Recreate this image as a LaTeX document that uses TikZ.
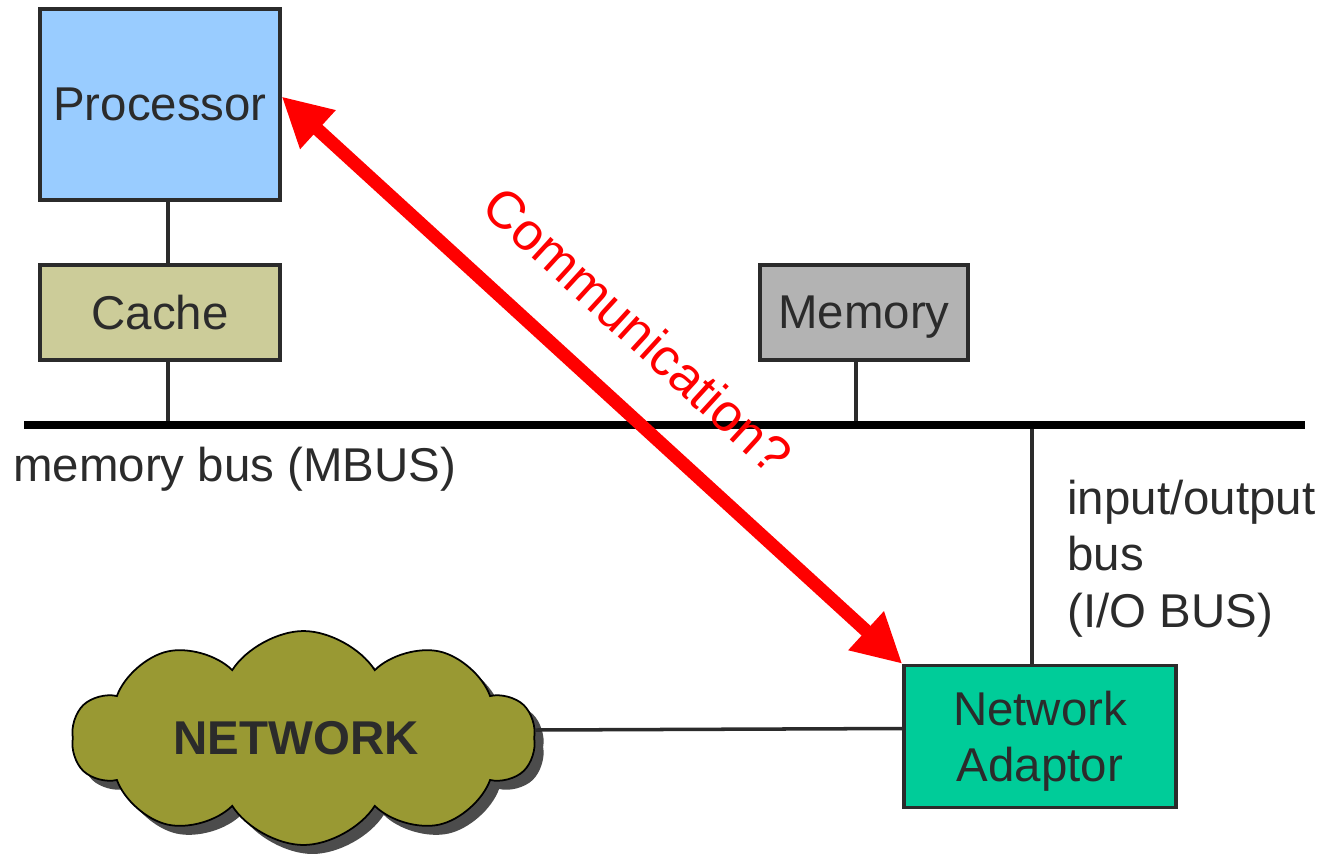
\documentclass[tikz,border=0pt]{standalone}
\usepackage{fontspec}
\setmainfont{Liberation Sans}
\usetikzlibrary{arrows.meta,shapes.symbols,shadows}
\definecolor{procblue}{HTML}{99CCFF}
\definecolor{cachekhaki}{HTML}{CCCC99}
\definecolor{memgray}{HTML}{B3B3B3}
\definecolor{adaptgreen}{HTML}{00CC99}
\definecolor{cloudolive}{HTML}{999933}
\definecolor{edgegray}{HTML}{2B2B2B}
\newcommand{\diagfont}{\fontsize{27pt}{32pt}\selectfont}

\begin{document}
\begin{tikzpicture}[x=0.02cm, y=-0.02cm, font=\diagfont,
	unit/.style={draw=edgegray, line width=1.9pt, text=edgegray, inner sep=0pt, text depth=0pt, align=center},
	wire/.style={draw=edgegray, line width=2pt},
	bus/.style={draw=black, line width=4pt},
	label/.style={text=edgegray, inner sep=0pt, align=left},
	cloudnet/.style={cloud, cloud puffs=10, cloud puff arc=115, aspect=2.2, draw=black, line width=1pt,
		fill=cloudolive, text=edgegray, font=\diagfont\bfseries,
		drop shadow={shadow xshift=.18cm, shadow yshift=-.18cm, fill=black, opacity=.7}},
	comm/.style={draw=red, line width=7.5pt, {Triangle[length=28pt,width=28pt]}-{Triangle[length=28pt,width=28pt]}}]
	\useasboundingbox (0,0) rectangle (1328,853);

	\node[unit, fill=procblue, minimum width=4.8cm, minimum height=3.82cm] (proc) at (160,104.5) {Processor};
	\node[unit, fill=cachekhaki, minimum width=4.8cm, minimum height=1.9cm] (cache) at (160,312.5) {Cache};
	\node[unit, fill=memgray, minimum width=4.16cm, minimum height=1.9cm] (mem) at (864,312.5) {Memory};
	\node[unit, fill=adaptgreen, minimum width=5.44cm, minimum height=2.84cm] (adapt) at (1040,736.5) {Network\\Adaptor};
	\node[cloudnet, minimum width=9.26cm, minimum height=4.28cm] (net) at (303.5,738) {\hspace*{-.3cm}NETWORK};

	\coordinate (busL) at (24,425);
	\coordinate (busR) at (1305,425);

	\path[wire]
	([xshift=.16cm]proc.south) edge ([xshift=.16cm]cache.north)
	([xshift=.16cm]cache.south) edge ([xshift=.16cm]cache.south |- busL)
	([xshift=-.16cm]mem.south) edge ([xshift=-.16cm]mem.south |- busL)
	([xshift=-.16cm]adapt.north) edge ([xshift=-.16cm]adapt.north |- busL)
	([yshift=.16cm]net.east) edge ([yshift=.16cm]adapt.west);
	\draw[bus] (busL) -- (busR);

	\node[label, anchor=base west] (mbus) at (13,481) {memory bus (MBUS)};
	\node[label, anchor=north west] (iobus) at (1067,480) {input/output\\bus\\(I/O BUS)};

	\draw[comm] ([yshift=.16cm]proc.east) -- (adapt.north west)
		node[midway, sloped, above=24pt, inner sep=0pt, text=red, font=\fontsize{30pt}{36pt}\selectfont] (commtext) {Communication?};
\end{tikzpicture}
\end{document}
